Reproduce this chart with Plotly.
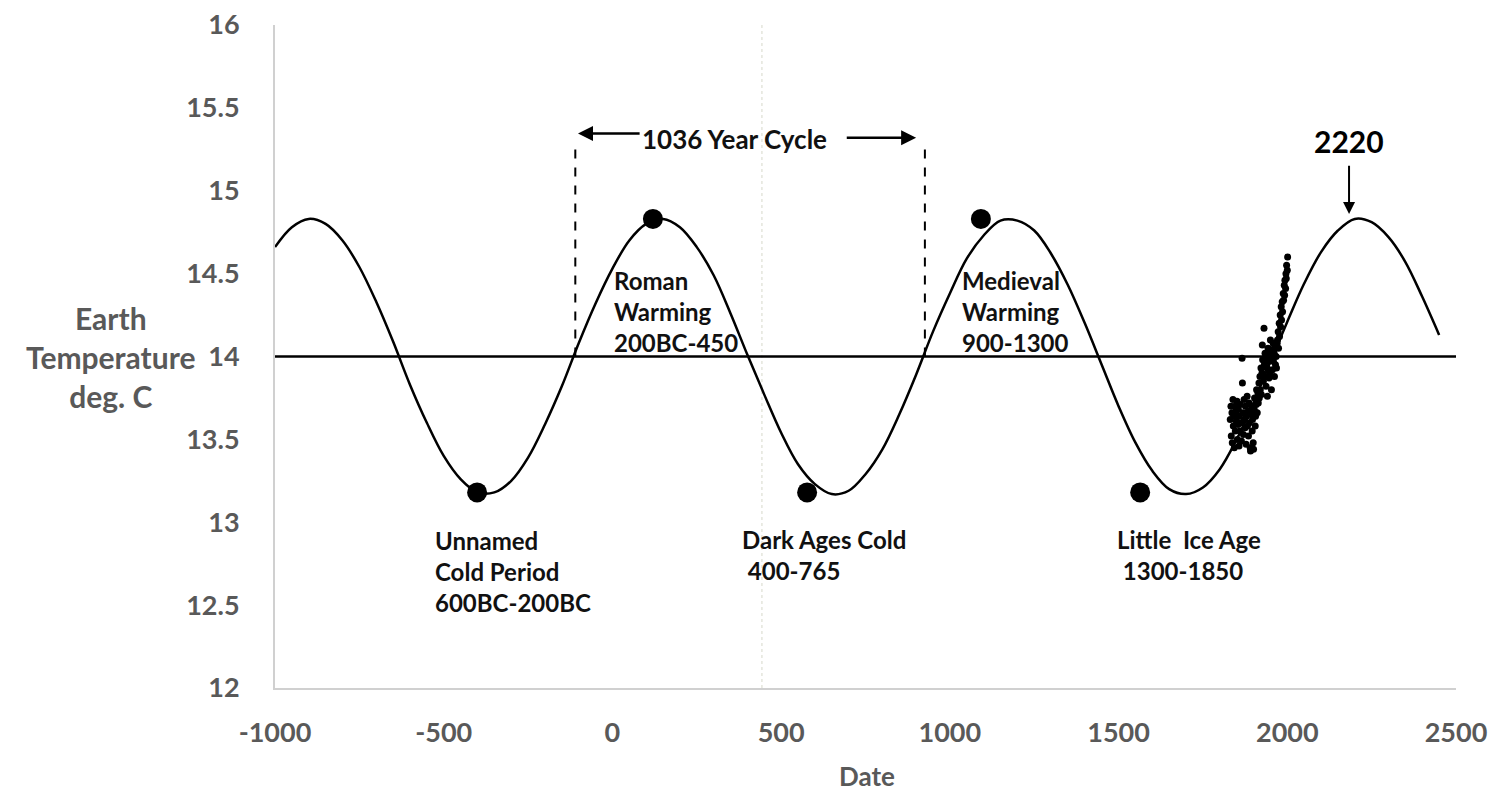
import plotly.graph_objects as go

# ---- Data ----
cycle_years = [-1000, -950, -900, -850, -800, -750, -700, -650, -600, -550, -500, -450, -400,
               -350, -300, -250, -200, -150, -100, -50, 0, 50, 100, 150, 200, 250, 300, 350,
               400, 450, 500, 550, 600, 650, 700, 750, 800, 850, 900, 950, 1000, 1050, 1100,
               1150, 1200, 1250, 1300, 1350, 1400, 1450, 1500, 1550, 1600, 1650, 1700, 1750,
               1800, 1850, 1900, 1950, 2000, 2050, 2100, 2150, 2200, 2250, 2300, 2350, 2400, 2450]
cycle_temps = [14.66, 14.78, 14.83, 14.80, 14.70, 14.54, 14.33, 14.09, 13.83, 13.60, 13.40,
               13.26, 13.18, 13.18, 13.25, 13.39, 13.59, 13.82, 14.08, 14.32, 14.53, 14.70,
               14.80, 14.83, 14.78, 14.66, 14.49, 14.26, 14.01, 13.77, 13.54, 13.35, 13.23,
               13.17, 13.19, 13.29, 13.44, 13.65, 13.89, 14.15, 14.38, 14.59, 14.73, 14.82,
               14.82, 14.76, 14.62, 14.43, 14.20, 13.95, 13.70, 13.48, 13.31, 13.20, 13.17,
               13.21, 13.32, 13.50, 13.72, 13.97, 14.21, 14.44, 14.63, 14.76, 14.83, 14.81,
               14.72, 14.57, 14.36, 14.13]

obs_years = [1831, 1833, 1834, 1836, 1837, 1839, 1840, 1842, 1843, 1845, 1846, 1848, 1849, 1851,
             1852, 1854, 1855, 1857, 1858, 1860, 1861, 1863, 1864, 1866, 1867, 1869, 1870, 1872,
             1873, 1875, 1876, 1878, 1879, 1881, 1882, 1884, 1885, 1887, 1888, 1890, 1891, 1893,
             1894, 1896, 1897, 1899, 1900, 1902, 1903, 1905, 1906, 1908, 1909,
             1911, 1913, 1914, 1916, 1917, 1919, 1920, 1922, 1923, 1925, 1926, 1927, 1929, 1931,
             1932, 1934, 1935, 1937, 1938, 1940, 1941, 1943, 1944, 1946, 1947, 1949, 1950, 1952,
             1953, 1955, 1956, 1958, 1959, 1961, 1962, 1964, 1965, 1967, 1968, 1970,
             1971, 1973, 1974, 1976, 1977, 1979, 1980, 1982, 1983, 1985, 1986, 1988, 1989, 1991,
             1992, 1993, 1995, 1996, 1997, 1998, 2000, 2001]
obs_temps = [13.62, 13.70, 13.52, 13.66, 13.48, 13.74, 13.58, 13.64, 13.45, 13.70, 13.55, 13.67,
             13.61, 13.73, 13.50, 13.59, 13.68, 13.46, 13.64, 13.55, 13.71, 13.60, 13.49, 13.99,
             13.84, 13.66, 13.53, 13.74, 13.62, 13.57, 13.70, 13.47, 13.64, 13.76, 13.58, 13.67,
             13.52, 13.72, 13.60, 13.45, 13.43, 13.65, 13.70, 13.55, 13.62, 13.48, 13.44, 13.68,
             13.75, 13.58, 13.64, 13.71, 13.80,
             13.66, 13.78, 13.72, 13.84, 13.75, 13.88, 13.80, 13.93, 13.77, 13.90, 14.07, 13.98,
             13.85, 14.17, 13.95, 14.02, 13.88, 13.82, 14.00, 13.93, 13.76, 14.05, 13.97, 13.87,
             14.03, 13.90, 14.10, 13.99, 13.80, 14.04, 13.92, 14.08, 13.97, 14.02, 13.88, 14.06,
             13.95, 14.00, 13.93, 14.08,
             14.10, 14.15, 14.05, 14.20, 14.12, 14.25, 14.18, 14.30, 14.22, 14.33, 14.27, 14.38,
             14.34, 14.43, 14.37, 14.46, 14.41, 14.50, 14.47, 14.55, 14.52, 14.60]

period_years = [-401, 120, 577, 1092, 1564]
period_temps = [13.18, 14.83, 13.18, 14.83, 13.18]

mean_temp = 14.0
cycle_start, cycle_end = -110, 926
bracket_top = 15.27
x_ticks = [-1000, -500, 0, 500, 1000, 1500, 2000, 2500]
x_tick_labels = ["-1000", "-500", "0", "500", "1000", "1500", "2000", "2500"]
y_ticks = [12, 12.5, 13, 13.5, 14, 14.5, 15, 15.5, 16]
y_tick_labels = ["12", "12.5", "13", "13.5", "14", "14.5", "15", "15.5", "16"]

FONT = "Lato"
GRAY = "#595959"

fig = go.Figure()

# faint dotted vertical artifact line
fig.add_trace(go.Scatter(x=[443, 443], y=[12, 16], mode="lines",
                         line=dict(color="#e4e6dc", width=1.5, dash="dot"),
                         hoverinfo="skip", showlegend=False))

# mean line
fig.add_trace(go.Scatter(x=[-1000, 2500], y=[mean_temp, mean_temp], mode="lines",
                         line=dict(color="black", width=2.5), showlegend=False))

# cycle bracket dashed lines
for xv in (cycle_start, cycle_end):
    fig.add_trace(go.Scatter(x=[xv, xv], y=[mean_temp, bracket_top], mode="lines",
                             line=dict(color="black", width=2, dash="dash"), showlegend=False))

# cycle curve
fig.add_trace(go.Scatter(x=cycle_years, y=cycle_temps, mode="lines",
                         line=dict(color="black", width=2.5, shape="spline", smoothing=1.0),
                         showlegend=False))

# observed temperatures
fig.add_trace(go.Scatter(x=obs_years, y=obs_temps, mode="markers",
                         marker=dict(color="black", size=7), showlegend=False))

# climate period dots
fig.add_trace(go.Scatter(x=period_years, y=period_temps, mode="markers",
                         marker=dict(color="black", size=20), showlegend=False))

ann_font = dict(family=FONT, size=24, color="#111111")
annotations = [
    dict(x=-2, y=14.27, text="<b>Roman<br>Warming<br>200BC-450</b>"),
    dict(x=1030, y=14.27, text="<b>Medieval<br>Warming<br>900-1300</b>"),
    dict(x=-532, y=12.70, text="<b>Unnamed<br>Cold Period<br>600BC-200BC</b>"),
    dict(x=378, y=12.80, text="<b>Dark Ages Cold<br> 400-765</b>"),
    dict(x=1490, y=12.80, text="<b>Little  Ice Age<br> 1300-1850</b>"),
]
for a in annotations:
    fig.add_annotation(xref="x", yref="y", showarrow=False, xanchor="left", yanchor="middle",
                       align="left", font=ann_font, **a)

fig.add_annotation(xref="x", yref="y", x=363, y=15.31, text="<b>1036 Year Cycle</b>",
                   showarrow=False, font=dict(family=FONT, size=26, color="#111111"))
# cycle arrows
fig.add_annotation(xref="x", yref="y", axref="x", ayref="y", x=-102, y=15.345,
                   ax=85, ay=15.345, text="", showarrow=True, arrowhead=2,
                   arrowsize=1.2, arrowwidth=2.5, arrowcolor="black")
fig.add_annotation(xref="x", yref="y", axref="x", ayref="y", x=900, y=15.32,
                   ax=690, ay=15.32, text="", showarrow=True, arrowhead=2,
                   arrowsize=1.2, arrowwidth=2.5, arrowcolor="black")
# 2220 peak marker
fig.add_annotation(xref="x", yref="y", x=2183, y=15.30, text="<b>2220</b>",
                   showarrow=False, font=dict(family=FONT, size=30, color="black"))
fig.add_annotation(xref="x", yref="y", axref="x", ayref="y", x=2183, y=14.86,
                   ax=2183, ay=15.16, text="", showarrow=True, arrowhead=2,
                   arrowsize=1.2, arrowwidth=2, arrowcolor="black")

# axis titles
fig.add_annotation(xref="paper", yref="y", x=-0.1397, y=14.0,
                   text="<b>Earth<br>Temperature<br>deg. C</b>", showarrow=False,
                   xanchor="center", yanchor="middle", align="center",
                   font=dict(family=FONT, size=30, color=GRAY))
fig.add_annotation(xref="x", yref="paper", x=755, y=-0.133, text="<b>Date</b>",
                   showarrow=False, xanchor="center", yanchor="middle",
                   font=dict(family=FONT, size=26, color=GRAY))

fig.update_xaxes(range=[-1000, 2500], tickvals=x_ticks, ticktext=x_tick_labels,
                 showgrid=False, zeroline=False, automargin=False,
                 showline=True, linecolor="#d0d0d0", linewidth=2, ticks="",
                 ticklabelstandoff=20, ticklabeloverflow="allow",
                 tickfont=dict(family=FONT, size=27, color=GRAY, weight="bold"))
fig.update_yaxes(range=[12, 16], tickvals=y_ticks, ticktext=y_tick_labels, showgrid=False,
                 zeroline=False, automargin=False, showline=True, linecolor="#d0d0d0",
                 linewidth=2, ticks="", ticklabelstandoff=28, ticklabeloverflow="allow",
                 tickfont=dict(family=FONT, size=27, color=GRAY, weight="bold"))

# page body adds an 8px offset, so the figure is sized to fit the 1504x795 view
fig.update_layout(width=1496, height=787, plot_bgcolor="white", paper_bgcolor="white",
                  margin=dict(l=267, r=48, t=17, b=107), showlegend=False)

fig.write_html("out.html")
